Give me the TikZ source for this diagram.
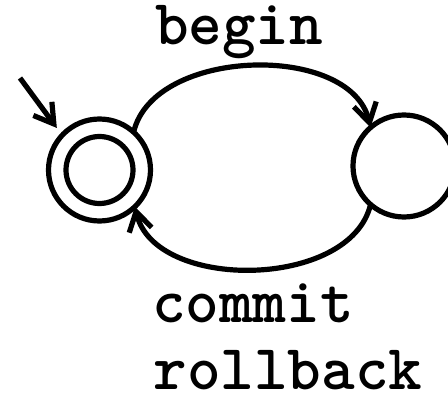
\documentclass[tikz,border=0pt]{standalone}
\usetikzlibrary{arrows.meta}
\begin{document}
\begin{tikzpicture}[x=1pt,y=-1pt,
  line width=5.2pt,
  statebox/.style={circle,draw,inner sep=0pt,outer sep=0pt,minimum size=102pt},
  innerring/.style={circle,draw,inner sep=0pt,outer sep=0pt,minimum size=67pt},
  edge/.style={-{Straight Barb[length=19pt,width=23pt]}},
  lbl/.style={font=\fontsize{64}{64}\selectfont\ttfamily\bfseries,inner sep=0pt,anchor=base}]
\useasboundingbox (0,0) rectangle (448,398);
\node[statebox] (q0) at (99.5,170) {};
\node[innerring] (q0in) at (99.5,170) {};
\node[statebox] (q1) at (404,166) {};
\coordinate (init) at (20,78);
\draw[edge,shorten >=9pt] (init) -- (q0.137);
\draw[edge] (q0.48) .. controls +(20,-85) and +(-20,-85) .. (q1.131);
\draw[edge] (q1.-131) .. controls +(-20,85) and +(20,85) .. (q0.-46);
\node[lbl] (tb) at (239,45) {begin};
\node[lbl] (tc) at (253,323) {commit};
\node[lbl] (tr) at (288,390) {rollback};
\end{tikzpicture}
\end{document}
